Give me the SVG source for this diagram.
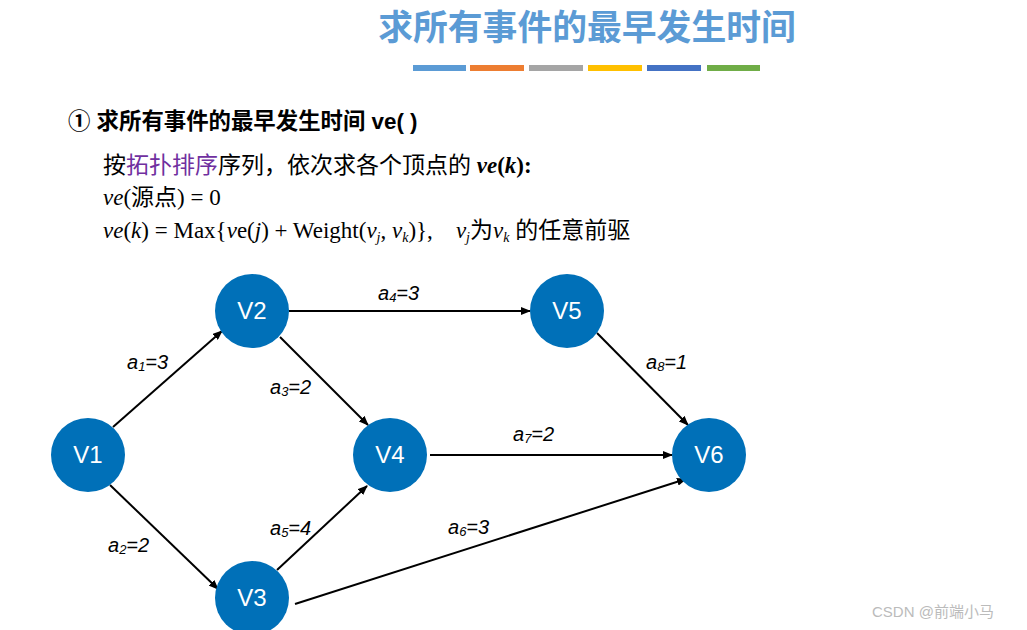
<svg xmlns="http://www.w3.org/2000/svg" width="1027" height="630" viewBox="0 0 1027 630">
<style>
.title{font-family:"Noto Sans CJK SC","Liberation Sans",sans-serif;font-weight:bold;font-size:34.8px;fill:#5B9BD5}
.head{font-family:"Liberation Sans","Noto Sans CJK SC",sans-serif;font-weight:bold;font-size:22.4px;fill:#000}
.body{font-family:"Liberation Serif","Noto Sans CJK SC",serif;font-size:23px;fill:#000}
.node circle{fill:#0070B8}
.node text{font-family:"Liberation Sans",sans-serif;font-size:24px;fill:#fff;text-anchor:middle}
.lbl{font-family:"Liberation Sans",sans-serif;font-style:italic;font-size:20px;fill:#000}
.edge{stroke:#000;stroke-width:2;fill:none;marker-end:url(#arr)}
.wm{font-family:"Liberation Sans","Noto Sans CJK SC",sans-serif;font-size:15px;fill:#bbb}
</style>
<defs>
<marker id="arr" markerWidth="10" markerHeight="8" refX="9" refY="4" orient="auto" markerUnits="userSpaceOnUse">
<path d="M0,0 L10,4 L0,8 Z" fill="#000"/>
</marker>
</defs>
<rect width="1027" height="630" fill="#fff"/>
<text class="title" x="587" y="40" text-anchor="middle">求所有事件的最早发生时间</text>
<g id="bars">
<rect x="413" y="65" width="53" height="6" fill="#5B9BD5"/>
<rect x="470" y="65" width="54" height="6" fill="#ED7D31"/>
<rect x="529" y="65" width="54" height="6" fill="#A5A5A5"/>
<rect x="588" y="65" width="54" height="6" fill="#FFC000"/>
<rect x="647" y="65" width="54" height="6" fill="#4472C4"/>
<rect x="707" y="65" width="53" height="6" fill="#70AD47"/>
</g>
<text class="head" x="68" y="129">① 求所有事件的最早发生时间 ve( )</text>
<text class="body" x="103" y="173">按<tspan fill="#7030A0">拓扑排序</tspan>序列，依次求各个顶点的 <tspan font-weight="bold" font-style="italic">ve</tspan><tspan font-weight="bold">(</tspan><tspan font-weight="bold" font-style="italic">k</tspan><tspan font-weight="bold">):</tspan></text>
<text class="body" x="103" y="205"><tspan font-style="italic">ve</tspan>(源点) = 0</text>
<text class="body" x="103" y="238" xml:space="preserve"><tspan font-style="italic">ve</tspan>(<tspan font-style="italic">k</tspan>) = Max{<tspan font-style="italic">v</tspan>e(<tspan font-style="italic">j</tspan>) + Weight(<tspan font-style="italic">v</tspan><tspan font-style="italic" font-size="14" dy="4">j</tspan><tspan dy="-4">, </tspan><tspan font-style="italic">v</tspan><tspan font-style="italic" font-size="14" dy="4">k</tspan><tspan dy="-4">)},    </tspan><tspan font-style="italic">v</tspan><tspan font-style="italic" font-size="14" dy="4">j</tspan><tspan dy="-4">为</tspan><tspan font-style="italic">v</tspan><tspan font-style="italic" font-size="14" dy="4">k</tspan><tspan dy="-4"> 的任意前驱</tspan></text>
<g id="connectors">
<line class="edge" x1="113" y1="427" x2="222" y2="331"/>
<line class="edge" x1="110" y1="485" x2="218" y2="589"/>
<line class="edge" x1="280" y1="337" x2="368" y2="425"/>
<line class="edge" x1="289" y1="311" x2="530" y2="311"/>
<line class="edge" x1="277" y1="570" x2="367" y2="486"/>
<line class="edge" x1="295" y1="604" x2="686" y2="479"/>
<line class="edge" x1="430" y1="455" x2="672" y2="455"/>
<line class="edge" x1="597" y1="333" x2="688" y2="425"/>
</g>
<g id="labels">
<text class="lbl" x="127" y="369">a<tspan font-size="13" dy="2">1</tspan><tspan dy="-2">=3</tspan></text>
<text class="lbl" x="270" y="394">a<tspan font-size="13" dy="2">3</tspan><tspan dy="-2">=2</tspan></text>
<text class="lbl" x="378" y="300">a<tspan font-size="13" dy="2">4</tspan><tspan dy="-2">=3</tspan></text>
<text class="lbl" x="646" y="369">a<tspan font-size="13" dy="2">8</tspan><tspan dy="-2">=1</tspan></text>
<text class="lbl" x="513" y="441">a<tspan font-size="13" dy="2">7</tspan><tspan dy="-2">=2</tspan></text>
<text class="lbl" x="108" y="552">a<tspan font-size="13" dy="2">2</tspan><tspan dy="-2">=2</tspan></text>
<text class="lbl" x="270" y="535">a<tspan font-size="13" dy="2">5</tspan><tspan dy="-2">=4</tspan></text>
<text class="lbl" x="448" y="534">a<tspan font-size="13" dy="2">6</tspan><tspan dy="-2">=3</tspan></text>
</g>
<g id="V1" class="node"><circle cx="88" cy="455" r="37"/><text x="88" y="463">V1</text></g>
<g id="V2" class="node"><circle cx="252" cy="311" r="37"/><text x="252" y="319">V2</text></g>
<g id="V3" class="node"><circle cx="252" cy="598" r="37"/><text x="252" y="606">V3</text></g>
<g id="V4" class="node"><circle cx="390" cy="455" r="37"/><text x="390" y="463">V4</text></g>
<g id="V5" class="node"><circle cx="567" cy="311" r="37"/><text x="567" y="319">V5</text></g>
<g id="V6" class="node"><circle cx="709" cy="455" r="37"/><text x="709" y="463">V6</text></g>
<text class="wm" x="872" y="617">CSDN @前端小马</text>
</svg>
